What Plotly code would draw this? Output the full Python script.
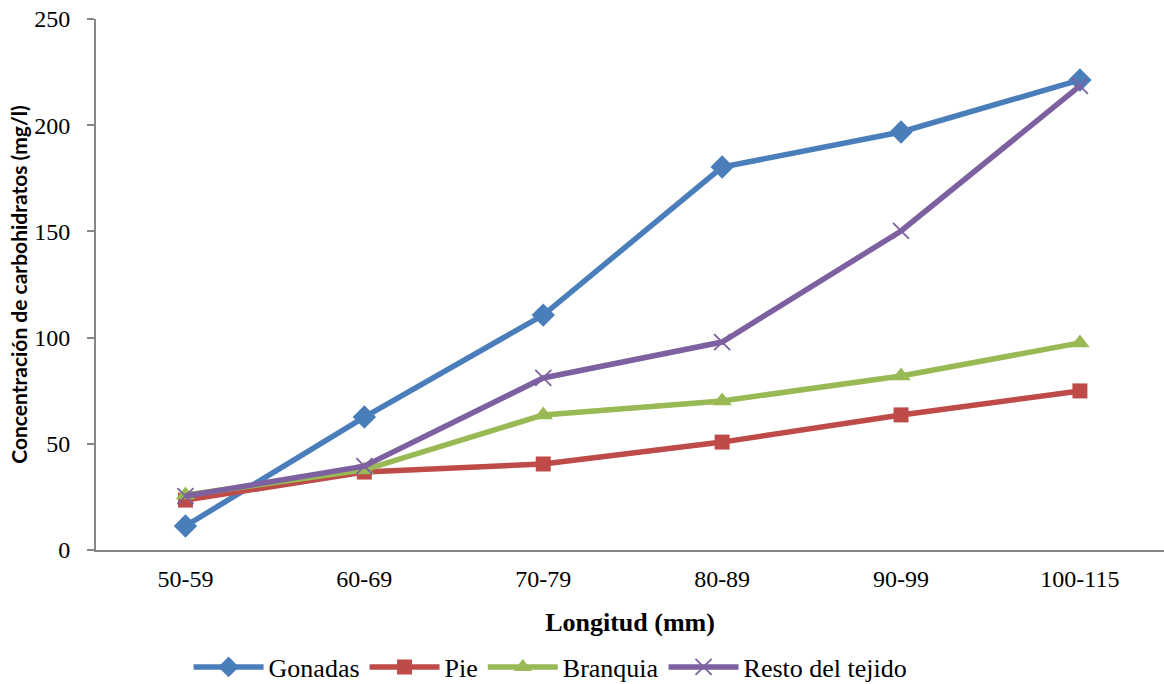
import plotly.graph_objects as go

categories = ["50-59", "60-69", "70-79", "80-89", "90-99", "100-115"]
gonadas = [11.3, 62.6, 110.6, 180.3, 196.8, 221.3]
pie = [23.5, 36.7, 40.5, 50.8, 63.6, 74.9]
branquia = [25.9, 37.7, 63.6, 70.2, 81.9, 97.5]
resto = [25.4, 39.5, 81.0, 97.9, 150.2, 218.5]
y_ticks = [0, 50, 100, 150, 200, 250]

series = [
    ("Gonadas", gonadas, "#4A7EBB", "diamond", 18, 0),
    ("Pie", pie, "#BE4B48", "square", 15, 0),
    ("Branquia", branquia, "#98B954", "triangle-up", 17, 0),
    ("Resto del tejido", resto, "#7D60A0", "x-thin", 16, 2),
]

fig = go.Figure()
for name, vals, color, sym, size, lw in series:
    marker = dict(symbol=sym, size=size, color=color)
    if sym == "x-thin":
        marker["line"] = dict(color=color, width=1.8)
    fig.add_trace(go.Scatter(
        x=categories, y=vals, name=name, mode="lines+markers",
        line=dict(color=color, width=5.5), marker=marker,
    ))

fig.update_layout(
    width=1164, height=684,
    plot_bgcolor="white", paper_bgcolor="white",
    margin=dict(l=96, r=0, t=19, b=134, autoexpand=False),
    font=dict(family="Liberation Serif", size=24, color="black"),
    showlegend=True,
    legend=dict(orientation="h", xref="container", yref="container",
                x=0.473, xanchor="center", y=17 / 684, yanchor="middle",
                font=dict(family="Liberation Serif", size=26), itemwidth=70,
                traceorder="normal", bgcolor="rgba(0,0,0,0)"),
    xaxis=dict(
        type="category", range=[-0.5, 5.47], showgrid=False, showline=True,
        linecolor="#868686", linewidth=2, automargin=False,
        ticks="", ticklabelstandoff=6,
        title=dict(text="<b>Longitud (mm)</b>", font=dict(family="Liberation Serif", size=26), standoff=22),
    ),
    yaxis=dict(
        range=[0, 250], tickvals=y_ticks, showgrid=False, showline=True, linecolor="#868686",
        linewidth=2, ticks="outside", ticklen=7, tickcolor="#868686", tickwidth=2,
        ticklabelstandoff=12, zeroline=False, automargin=False,
        title=dict(text="<b>Concentración de carbohidratos (mg/l)</b>",
                   font=dict(family="Lato", size=21), standoff=1),
    ),
)

fig.write_html("out.html", config={"displayModeBar": False},
               post_script="document.body.style.margin='0';document.body.style.overflow='hidden';")
